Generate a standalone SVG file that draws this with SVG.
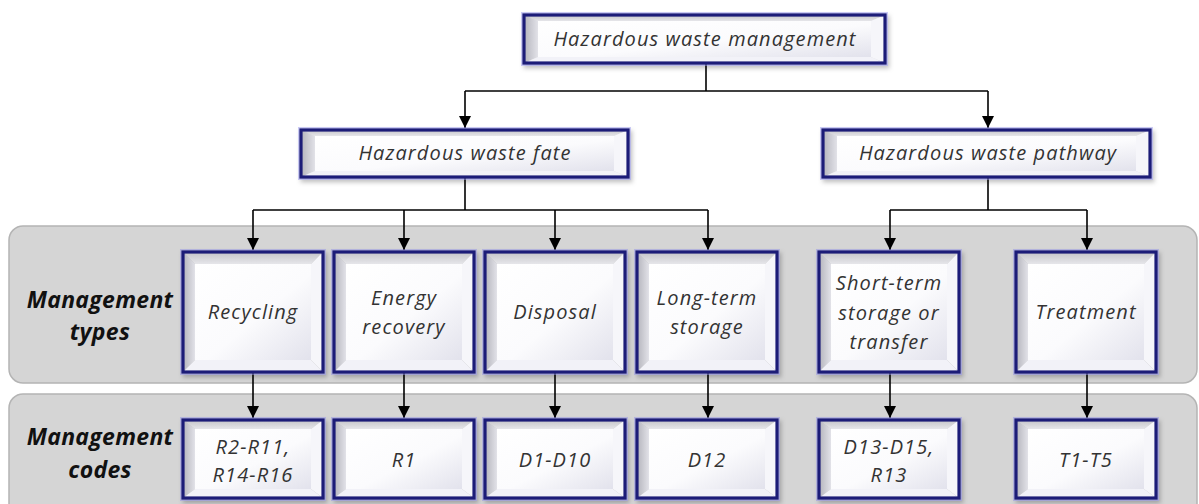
<svg xmlns="http://www.w3.org/2000/svg" xmlns:xlink="http://www.w3.org/1999/xlink" width="1199" height="504" viewBox="0 0 1199 504">
<style>
.panel{fill:#d5d5d5;stroke:#b4b4b4;stroke-width:1.5}
.lbl{font-family:"Open Sans","DejaVu Sans",sans-serif;font-style:italic;font-size:20px;letter-spacing:1.1px;fill:#333;text-anchor:middle}
.side{font-family:"Open Sans","DejaVu Sans",sans-serif;font-style:italic;font-weight:bold;font-size:23px;letter-spacing:0.3px;fill:#111;text-anchor:middle}
.conn{fill:none;stroke:#000;stroke-width:1.6}
.bT{fill:url(#gTop)}.bL{fill:url(#gLeft)}.bR{fill:#f6f6fa}.bB{fill:#f2f2f8}.face{fill:url(#gFace)}
.halo{fill:none;stroke:#8c8ce6;stroke-width:6;stroke-opacity:0.45}
.edge{fill:none;stroke:#1f1f78;stroke-width:3.2}
</style>
<defs>
<linearGradient id="gTop" x1="0" y1="0" x2="0" y2="1"><stop offset="0" stop-color="#c4c4c8"/><stop offset="1" stop-color="#e6e6ea"/></linearGradient>
<linearGradient id="gLeft" x1="0" y1="0" x2="1" y2="0"><stop offset="0" stop-color="#b4b4bc"/><stop offset="1" stop-color="#e2e2e8"/></linearGradient>
<linearGradient id="gFace" x1="0" y1="0" x2="1" y2="1"><stop offset="0" stop-color="#ffffff"/><stop offset="0.55" stop-color="#fbfbfd"/><stop offset="1" stop-color="#e2e2ec"/></linearGradient>
<filter id="sh" x="-10%" y="-10%" width="125%" height="130%"><feDropShadow dx="2" dy="3" stdDeviation="2" flood-color="#000" flood-opacity="0.25"/></filter>
<marker id="arr" markerUnits="userSpaceOnUse" markerWidth="12" markerHeight="12" viewBox="0 0 12 12" refX="12" refY="6" orient="auto"><path d="M0,0 L12,6 L0,12 z" fill="#000"/></marker>
<g id="typeBox" filter="url(#sh)">
<rect class="halo" x="0" y="0" width="140" height="120"/>
<polygon class="bT" points="0,0 140,0 128,12 12,12"/>
<polygon class="bL" points="0,0 12,12 12,108 0,120"/>
<polygon class="bR" points="140,0 140,120 128,108 128,12"/>
<polygon class="bB" points="0,120 12,108 128,108 140,120"/>
<rect class="face" x="12" y="12" width="116" height="96"/>
<rect class="edge" x="0" y="0" width="140" height="120"/>
</g>
<g id="codeBox" filter="url(#sh)">
<rect class="halo" x="0" y="0" width="140" height="78"/>
<polygon class="bT" points="0,0 140,0 128,9 12,9"/>
<polygon class="bL" points="0,0 12,9 12,69 0,78"/>
<polygon class="bR" points="140,0 140,78 128,69 128,9"/>
<polygon class="bB" points="0,78 12,69 128,69 140,78"/>
<rect class="face" x="12" y="9" width="116" height="60"/>
<rect class="edge" x="0" y="0" width="140" height="78"/>
</g>
<g id="midBox" filter="url(#sh)">
<rect class="halo" x="0" y="0" width="327" height="47"/>
<polygon class="bT" points="0,0 327,0 313,6 14,6"/>
<polygon class="bL" points="0,0 14,6 14,41 0,47"/>
<polygon class="bR" points="327,0 327,47 313,41 313,6"/>
<polygon class="bB" points="0,47 14,41 313,41 327,47"/>
<rect class="face" x="14" y="6" width="299" height="35"/>
<rect class="edge" x="0" y="0" width="327" height="47"/>
</g>
<g id="topBox" filter="url(#sh)">
<rect class="halo" x="0" y="0" width="361" height="48"/>
<polygon class="bT" points="0,0 361,0 347,6 14,6"/>
<polygon class="bL" points="0,0 14,6 14,42 0,48"/>
<polygon class="bR" points="361,0 361,48 347,42 347,6"/>
<polygon class="bB" points="0,48 14,42 347,42 361,48"/>
<rect class="face" x="14" y="6" width="333" height="36"/>
<rect class="edge" x="0" y="0" width="361" height="48"/>
</g>
</defs>
<rect width="1199" height="504" fill="#fff"/>
<g id="panels">
<rect class="panel" x="9" y="226" width="1188" height="157" rx="14"/>
<rect class="panel" x="9" y="394" width="1188" height="140" rx="14"/>
<text class="side" x="100" y="308">Management</text>
<text class="side" x="100" y="340">types</text>
<text class="side" x="100" y="445">Management</text>
<text class="side" x="100" y="478">codes</text>
</g>
<g id="connectors">
<path class="conn" d="M706,63 V91"/>
<path class="conn" d="M465,91 H988"/>
<path class="conn" d="M465,91 V128" marker-end="url(#arr)"/>
<path class="conn" d="M988,91 V128" marker-end="url(#arr)"/>
<path class="conn" d="M465,177 V210"/>
<path class="conn" d="M253,210 H708"/>
<path class="conn" d="M253,210 V250" marker-end="url(#arr)"/>
<path class="conn" d="M404,210 V250" marker-end="url(#arr)"/>
<path class="conn" d="M555,210 V250" marker-end="url(#arr)"/>
<path class="conn" d="M708,210 V250" marker-end="url(#arr)"/>
<path class="conn" d="M988,177 V210"/>
<path class="conn" d="M890,210 H1087"/>
<path class="conn" d="M890,210 V250" marker-end="url(#arr)"/>
<path class="conn" d="M1087,210 V250" marker-end="url(#arr)"/>
<path class="conn" d="M253,372 V418" marker-end="url(#arr)"/>
<path class="conn" d="M404,372 V418" marker-end="url(#arr)"/>
<path class="conn" d="M555,372 V418" marker-end="url(#arr)"/>
<path class="conn" d="M708,372 V418" marker-end="url(#arr)"/>
<path class="conn" d="M890,372 V418" marker-end="url(#arr)"/>
<path class="conn" d="M1087,372 V418" marker-end="url(#arr)"/>
</g>
<g id="n-management"><use href="#topBox" x="524" y="15"/><text class="lbl" x="705" y="46">Hazardous waste management</text></g>
<g id="n-fate"><use href="#midBox" x="301" y="130"/><text class="lbl" x="465" y="160">Hazardous waste fate</text></g>
<g id="n-pathway"><use href="#midBox" x="823" y="130"/><text class="lbl" x="988" y="160">Hazardous waste pathway</text></g>
<g id="n-recycling"><use href="#typeBox" x="183" y="252"/><text class="lbl" x="253" y="319">Recycling</text></g>
<g id="n-energy"><use href="#typeBox" x="334" y="252"/><text class="lbl" x="404" y="305">Energy</text><text class="lbl" x="404" y="334">recovery</text></g>
<g id="n-disposal"><use href="#typeBox" x="485" y="252"/><text class="lbl" x="555" y="319">Disposal</text></g>
<g id="n-longterm"><use href="#typeBox" x="637" y="252"/><text class="lbl" x="707" y="305">Long-term</text><text class="lbl" x="707" y="334">storage</text></g>
<g id="n-shortterm"><use href="#typeBox" x="819" y="252"/><text class="lbl" x="889" y="290">Short-term</text><text class="lbl" x="889" y="320">storage or</text><text class="lbl" x="889" y="349">transfer</text></g>
<g id="n-treatment"><use href="#typeBox" x="1016" y="252"/><text class="lbl" x="1086" y="319">Treatment</text></g>
<g id="c-recycling"><use href="#codeBox" x="183" y="420"/><text class="lbl" x="253" y="454">R2-R11,</text><text class="lbl" x="253" y="482">R14-R16</text></g>
<g id="c-energy"><use href="#codeBox" x="334" y="420"/><text class="lbl" x="404" y="467">R1</text></g>
<g id="c-disposal"><use href="#codeBox" x="485" y="420"/><text class="lbl" x="555" y="467">D1-D10</text></g>
<g id="c-longterm"><use href="#codeBox" x="637" y="420"/><text class="lbl" x="707" y="467">D12</text></g>
<g id="c-shortterm"><use href="#codeBox" x="819" y="420"/><text class="lbl" x="889" y="454">D13-D15,</text><text class="lbl" x="889" y="482">R13</text></g>
<g id="c-treatment"><use href="#codeBox" x="1016" y="420"/><text class="lbl" x="1086" y="467">T1-T5</text></g>
</svg>
